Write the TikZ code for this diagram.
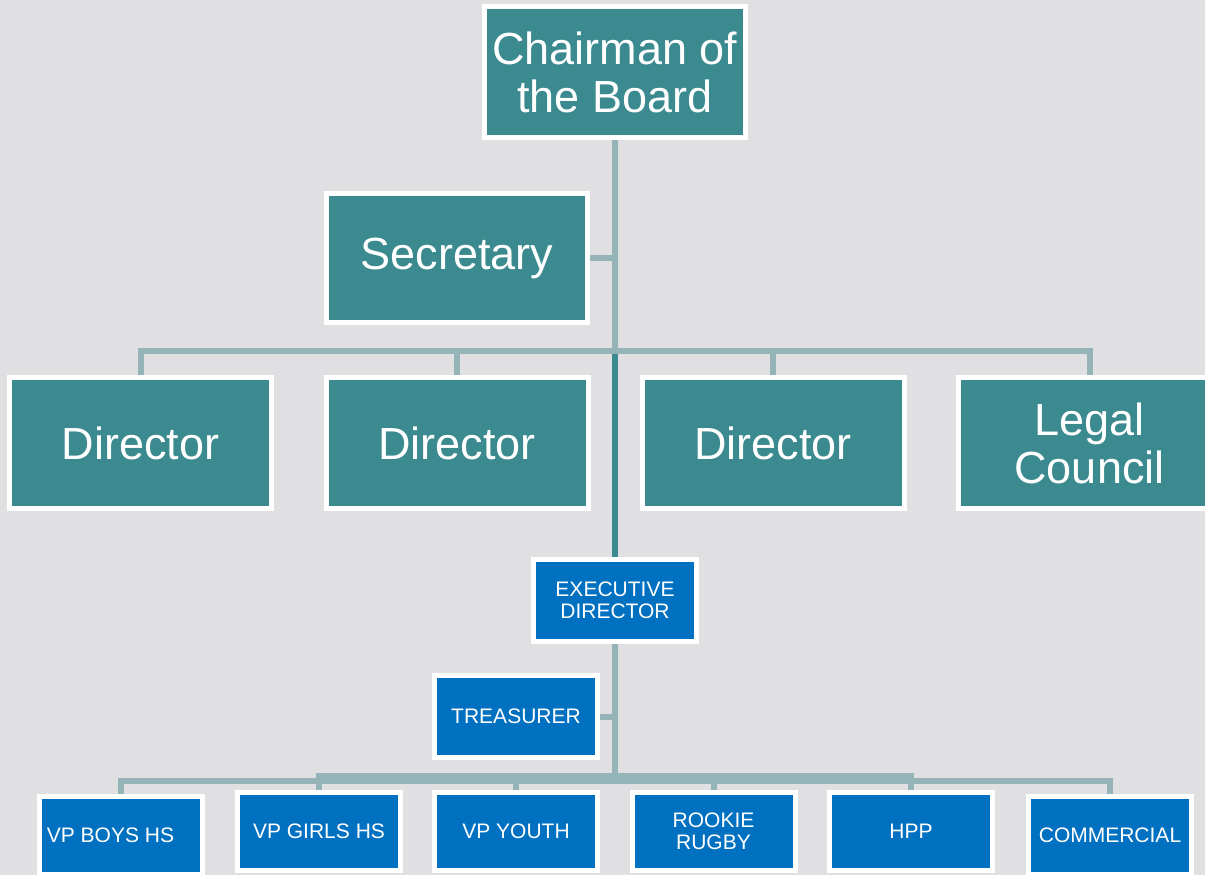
\documentclass[tikz,border=0pt]{standalone}
\usepackage{fontspec}
\setmainfont{Liberation Sans}
\usetikzlibrary{backgrounds}
\definecolor{tealbox}{HTML}{3B8A8F}
\definecolor{bluebox}{HTML}{0070C0}
\definecolor{connc}{HTML}{94B4B7}
\definecolor{marble}{HTML}{E0E0E2}
\tikzset{
  bigbox/.style={draw=white, line width=5pt, fill=tealbox, text=white, inner sep=0pt,
    minimum width=262pt, minimum height=131pt, align=center,
    font=\fontsize{45}{48}\selectfont},
  smallbox/.style={draw=white, line width=5pt, fill=bluebox, text=white, inner sep=0pt,
    minimum width=163pt, minimum height=82pt, align=center,
    font=\fontsize{21}{22}\selectfont},
  lowbox/.style={smallbox, minimum height=78pt},
  conn/.style={draw=connc, line width=6pt},
  trunk/.style={draw=tealbox, line width=6pt}
}
\begin{document}
\begin{tikzpicture}[x=1pt,y=-1pt]
\useasboundingbox (0,0) rectangle (1205,875);
\clip (0,0) rectangle (1205,875);
% boxes
\node[bigbox, minimum width=261pt] (chair) at (615,72) {Chairman of\\the Board};
\node[bigbox, minimum width=261pt, minimum height=129pt] (sec) at (457,258) {Secretary};
\node[bigbox] (d1) at (140.5,443) {Director};
\node[bigbox] (d2) at (457,443) {Director};
\node[bigbox] (d3) at (773,443) {Director};
\node[bigbox] (legal) at (1089.5,443) {Legal\\Council};
\node[smallbox] (exec) at (615,600.5) {EXECUTIVE\\DIRECTOR};
\node[smallbox] (tre) at (516,716.5) {TREASURER};
\node[lowbox] (boys) at (120.5,835.5) {VP BOYS HS\kern20pt};
\node[lowbox] (girls) at (319,831.5) {VP GIRLS HS};
\node[lowbox] (youth) at (516,831.5) {VP YOUTH};
\node[lowbox] (rookie) at (713.5,831.5) {ROOKIE\\RUGBY};
\node[lowbox] (hpp) at (911,831.5) {HPP};
\node[lowbox] (comm) at (1110,835.5) {COMMERCIAL};
% junctions
\coordinate (j1) at (615,351);
\coordinate (j2) at (615,776);
\coordinate (j3) at (615,780.5);
\begin{scope}[on background layer]
\fill[marble] (0,0) rectangle (1205,875);
\draw[conn] (chair.south) -- (j1);
\draw[conn] (sec.east) -- (sec.east -| chair.south);
\draw[trunk] (j1) -- (exec.north);
\draw[conn] (d1.north) |- (j1) -| (legal.north);
\draw[conn] (d2.north) -- (d2.north |- j1);
\draw[conn] (d3.north) -- (d3.north |- j1);
\draw[conn] (exec.south) -- (j3);
\draw[conn] (tre.east) -- (tre.east -| exec.south);
\draw[conn] (boys.north) |- (j3) -| (comm.north);
\draw[conn] (girls.north) |- (j2) -| (hpp.north);
\draw[conn] (youth.north) -- (youth.north |- j2);
\draw[conn] (rookie.north) -- (rookie.north |- j2);
\end{scope}
\end{tikzpicture}
\end{document}
